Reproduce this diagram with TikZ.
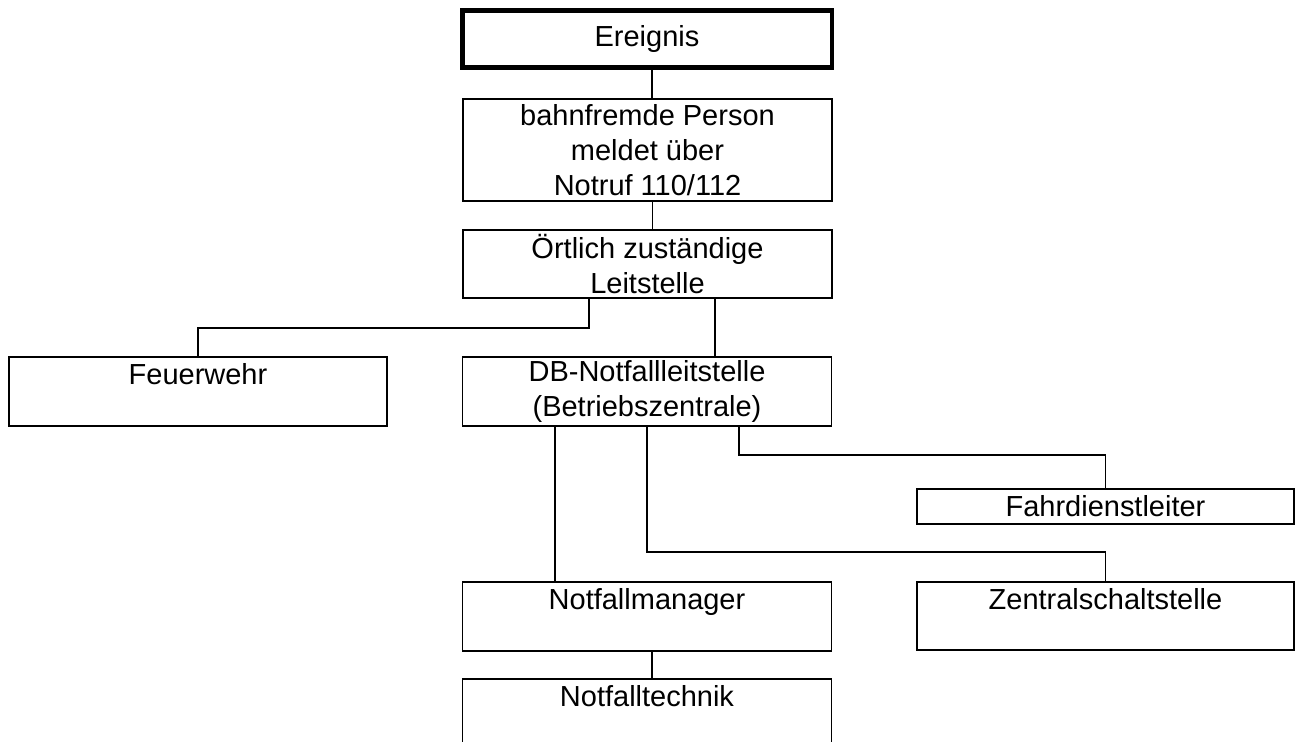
\documentclass[tikz,border=0pt]{standalone}
\usepackage{fontspec}
\setmainfont{Liberation Sans}
\usepackage{tikz}
\usetikzlibrary{calc,positioning}
\tikzstyle{kasten}=[rectangle, draw, line width=0.85pt, inner sep=0pt, align=center]

\begin{document}
\begin{tikzpicture}[x=0.02cm,y=-0.02cm,line width=0.85pt,font=\fontsize{16.5}{19.8}\selectfont,
 box/.style={kasten,minimum width=7.38cm,minimum height=1.38cm},
 boxr/.style={kasten,minimum width=7.54cm,minimum height=1.38cm}]
\useasboundingbox (0,0) rectangle (1296,742);
\node (ereignis) at (647,39)[kasten,line width=2.8pt,minimum width=7.4cm,minimum height=1.14cm] {Ereignis};
\node (person) at (647.5,150)[box,minimum height=2.04cm] {bahnfremde Person\\meldet über\\Notruf 110/112};
\node (leitstelle) at (647.5,264)[box,minimum height=1.36cm] {Örtlich zuständige\\Leitstelle};
\node (feuerwehr) at (198,391.5)[box,minimum width=7.56cm] {Feuerwehr\\\mbox{}};
\node (dbnl) at (647,391.5)[box] {DB-Notfallleitstelle\\(Betriebszentrale)};
\node (fdl) at (1105.5,506.5)[boxr,minimum height=0.7cm] {Fahrdienstleiter};
\node (manager) at (647,616.5)[box] {Notfallmanager\\\mbox{}};
\node (zss) at (1105.5,616)[boxr,minimum height=1.36cm] {Zentralschaltstelle\\\mbox{}};
\node (technik) at (647,713.5)[box] {Notfalltechnik\\\mbox{}};
\coordinate (k1) at (589,328);
\coordinate (k2) at (715,328);
\coordinate (k3) at (739,455);
\coordinate (k4) at (647,552);
\coordinate (k5) at (555,552);
\draw ([xshift=0.1cm]ereignis.south) -- ([xshift=0.1cm]ereignis.south |- person.north);
\draw ([xshift=0.1cm]person.south) -- ([xshift=0.1cm]person.south |- leitstelle.north);
\draw (leitstelle.south -| k1) -- (k1) -| (feuerwehr.north);
\draw (leitstelle.south -| k2) -- (dbnl.north -| k2);
\draw (dbnl.south -| k3) -- (k3) -| (fdl.north);
\draw (dbnl.south) -- (k4) -| (zss.north);
\draw (dbnl.south -| k5) -- (manager.north -| k5);
\draw ([xshift=0.1cm]manager.south) -- ([xshift=0.1cm]manager.south |- technik.north);
\end{tikzpicture}
\end{document}
